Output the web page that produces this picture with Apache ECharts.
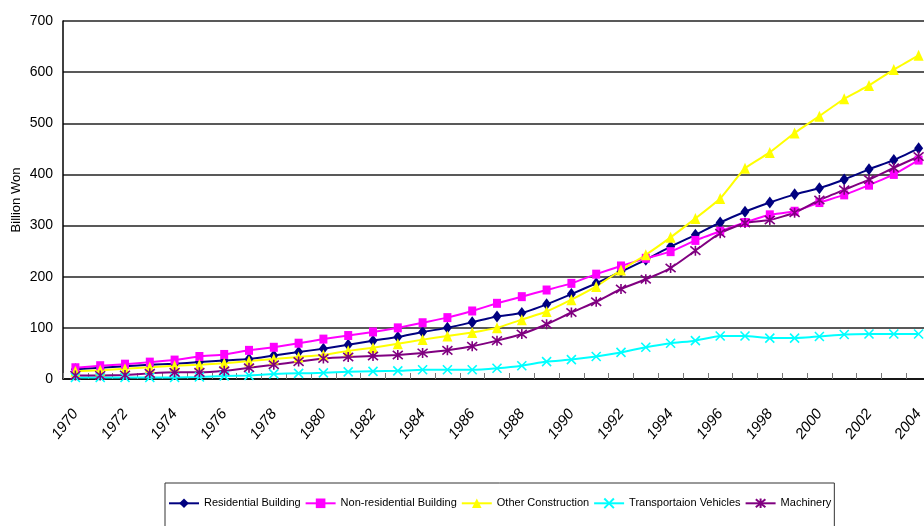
<!DOCTYPE html>
<html>
<head>
<meta charset="utf-8">
<script src="https://cdn.jsdelivr.net/npm/echarts@6/dist/echarts.min.js"></script>
<style>
  html, body { margin: 0; padding: 0; background: #fff; }
  #chart { width: 924px; height: 526px; }
</style>
</head>
<body>
<div id="chart"></div>
<script>
// years on the x axis
const years = [];
for (let y = 1970; y <= 2004; y++) years.push(String(y));

// values (billion won)
const residential = [19, 22, 25, 28, 30, 33, 36, 39, 46, 53, 59, 67, 75, 82, 92, 100, 111, 122, 129, 146,
  166, 187, 210, 233, 259, 282, 306, 327, 345, 361, 373, 390, 410, 428, 451];
const nonResidential = [22, 26, 29, 33, 37, 44, 48, 56, 62, 70, 78, 85, 92, 100, 110, 120, 133, 148, 161, 174,
  187, 205, 221, 236, 249, 271, 289, 306, 321, 328, 345, 360, 379, 400, 428];
const otherConstruction = [15, 17, 20, 23, 26, 28, 31, 35, 39, 43, 47, 55, 61, 69, 77, 84, 91, 100, 116, 132,
  155, 181, 213, 243, 277, 314, 353, 412, 443, 481, 514, 548, 574, 605, 633];
const transport = [3, 3, 3, 3, 3, 4, 6, 7, 10, 11, 12, 14, 15, 16, 18, 18, 18, 21, 26, 34,
  38, 44, 52, 62, 70, 75, 84, 84, 80, 80, 83, 87, 88, 88, 88];
const machinery = [7, 7, 8, 11, 13, 13, 16, 22, 28, 34, 40, 43, 45, 47, 51, 56, 64, 75, 88, 107,
  130, 151, 176, 195, 217, 251, 285, 305, 311, 325, 350, 370, 390, 413, 435];

const yTicks = [0, 100, 200, 300, 400, 500, 600, 700];

const sans = "'Liberation Sans', Arial, sans-serif";

const chart = echarts.init(document.getElementById('chart'));

// helper for each line series
const makeSeries = (name, data, color, symbol, size, stroke) => ({
  name,
  type: 'line',
  data,
  smooth: 0.15,
  symbol,
  symbolSize: size,
  lineStyle: { color, width: 2 },
  itemStyle: stroke
    ? { color: 'none', borderColor: color, borderWidth: 1.6 }
    : { color, borderColor: color, borderWidth: 0 },
  emphasis: { disabled: true },
  z: 2
});

const xPath = 'path://M0,0L10,10M10,0L0,10';
const starPath = 'path://M0,0L10,10M10,0L0,10M5,-1L5,11';

chart.setOption({
  animation: false,
  backgroundColor: '#fff',
  // plot runs past the right edge of the picture, like the original
  grid: { left: 63, top: 21, width: 868, height: 358, outerBoundsMode: 'none' },
  xAxis: {
    type: 'category',
    data: years,
    boundaryGap: true,
    axisLine: { lineStyle: { color: '#000', width: 1.5 } },
    axisTick: { show: true, inside: true, length: 6, interval: 0, lineStyle: { color: '#777' } },
    axisLabel: {
      interval: 1,
      rotate: 52,
      margin: 32,
      fontStyle: 'italic',
      fontFamily: sans,
      fontSize: 15,
      color: '#000'
    }
  },
  yAxis: {
    type: 'value',
    min: yTicks[0],
    max: yTicks[yTicks.length - 1],
    interval: 100,
    name: 'Billion Won',
    nameLocation: 'middle',
    nameGap: 40,
    nameMoveOverlap: false,
    nameTextStyle: { fontFamily: sans, fontSize: 13, color: '#000' },
    axisLine: { show: true, lineStyle: { color: '#000', width: 1.5 } },
    axisTick: { show: false },
    axisLabel: { fontFamily: sans, fontSize: 14, color: '#000', margin: 10 },
    splitLine: { show: true, lineStyle: { color: '#222', width: 1.5 } }
  },
  legend: {
    left: 165,
    top: 483,
    padding: [13, 3, 20, 3],
    itemGap: 4,
    itemWidth: 30,
    itemHeight: 12,
    borderColor: '#333',
    borderWidth: 1,
    textStyle: { fontFamily: sans, fontSize: 11, color: '#000' },
    data: ['Residential Building', 'Non-residential Building', 'Other Construction', 'Transportaion Vehicles', 'Machinery']
  },
  series: [
    makeSeries('Residential Building', residential, '#000080', 'diamond', [9, 12], false),
    makeSeries('Non-residential Building', nonResidential, '#FF00FF', 'rect', [8, 9], false),
    makeSeries('Other Construction', otherConstruction, '#FFFF00', 'triangle', [10, 11], false),
    makeSeries('Transportaion Vehicles', transport, '#00FFFF', xPath, 9, true),
    makeSeries('Machinery', machinery, '#800080', starPath, 10, true)
  ]
});
</script>
</body>
</html>
